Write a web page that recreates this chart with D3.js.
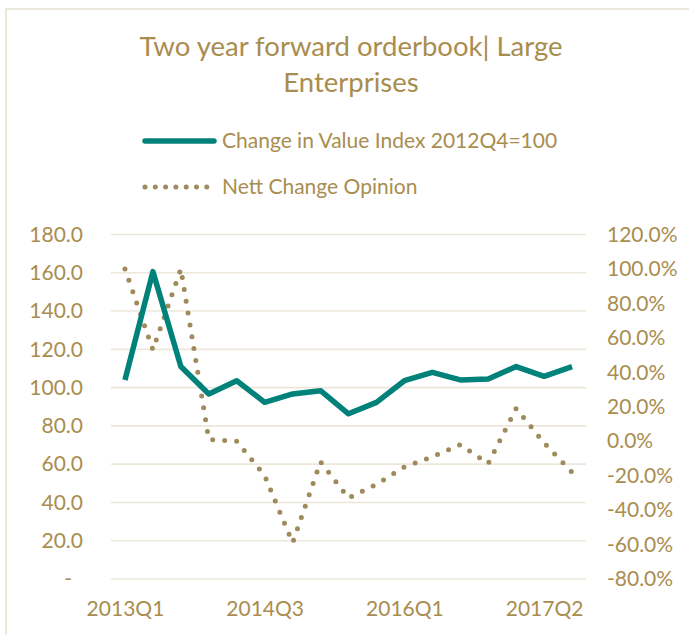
<!DOCTYPE html>
<html lang="en">
<head>
    <meta charset="UTF-8">
    <title>Two year forward orderbook | Large Enterprises</title>
    <style>
        body {
            margin: 0;
            padding: 0;
            background-color: white;
            font-family: Lato, "Open Sans", sans-serif;
        }

        .axis text {
            fill: #a98d4f;
            font-family: Lato, sans-serif;
            font-size: 21px;
        }

        .grid line {
            stroke: #ece7da;
            stroke-width: 1.6px;
        }
    </style>
</head>
<body>
    <div id="container"></div>

    <script src="https://d3js.org/d3.v7.min.js"></script>
    <script>
        // Data
        const categories = ["2013Q1", "2013Q2", "2013Q3", "2013Q4", "2014Q1", "2014Q3", "2014Q4",
            "2015Q1", "2015Q2", "2015Q3", "2016Q1", "2016Q2", "2016Q3", "2016Q4", "2017Q1", "2017Q2", "2017Q3"];
        const valueIndex = [104, 160.6, 111, 96.7, 103.6, 92.3, 96.7, 98.4, 86.3, 92.3, 103.6, 108, 104, 104.5, 111, 105.9, 111];
        const nettChange = [100, 53, 100, 1, 0, -20, -59, -12, -33, -25, -15, -9, -2, -13, 19, -1, -18];
        const leftTicks = [0, 20, 40, 60, 80, 100, 120, 140, 160, 180];
        const rightTicks = [-80, -60, -40, -20, 0, 20, 40, 60, 80, 100, 120];
        const seriesNames = ["Change in Value Index 2012Q4=100", "Nett Change Opinion"];

        const width = 689;
        const height = 635;
        const gold = "#a98d4f";
        const teal = "#00827a";
        const dotColor = "#9e8a5b";

        const svg = d3.select("#container")
            .append("svg")
            .attr("width", width)
            .attr("height", height)
            .style("display", "block");

        // light frame of the chart area
        svg.append("rect")
            .attr("x", 6)
            .attr("y", 9)
            .attr("width", 720)
            .attr("height", 660)
            .attr("fill", "white")
            .attr("stroke", "#ece8dc")
            .attr("stroke-width", 2);

        // Title
        const title = svg.append("text")
            .attr("text-anchor", "middle")
            .attr("fill", gold)
            .style("font-size", "27.5px");
        title.append("tspan").attr("x", 351).attr("y", 56).text("Two year forward orderbook| Large");
        title.append("tspan").attr("x", 351).attr("y", 92).text("Enterprises");

        // Scales
        const x = d3.scalePoint().domain(categories).range([111, 586]).padding(0.5);
        const yLeft = d3.scaleLinear().domain([0, 180]).range([579, 234.5]);
        const yRight = d3.scaleLinear().domain([-80, 120]).range([579, 234.5]);

        // Gridlines
        svg.append("g")
            .attr("class", "grid")
            .selectAll("line")
            .data(leftTicks)
            .enter()
            .append("line")
            .attr("x1", 111)
            .attr("x2", 586)
            .attr("y1", d => yLeft(d))
            .attr("y2", d => yLeft(d));

        // Axes
        const leftAxis = svg.append("g")
            .attr("class", "axis")
            .attr("transform", "translate(111,0)")
            .call(d3.axisLeft(yLeft).tickValues(leftTicks).tickSize(0).tickPadding(28)
                .tickFormat(d => d === 0 ? "-" : d.toFixed(1)));
        leftAxis.select(".domain").remove();
        leftAxis.selectAll(".tick text").filter(d => d === 0).attr("dx", -11);

        const rightAxis = svg.append("g")
            .attr("class", "axis")
            .attr("transform", "translate(586,0)")
            .call(d3.axisRight(yRight).tickValues(rightTicks).tickSize(0).tickPadding(21)
                .tickFormat(d => d.toFixed(1) + "%"));
        rightAxis.select(".domain").remove();

        const bottomAxis = svg.append("g")
            .attr("class", "axis")
            .attr("transform", "translate(0,579)")
            .call(d3.axisBottom(x).tickValues(categories.filter((d, i) => i % 5 === 0))
                .tickSize(0).tickPadding(22));
        bottomAxis.select(".domain").remove();

        // Lines
        const valueLine = d3.line()
            .x((d, i) => x(categories[i]))
            .y(d => yLeft(d));
        const nettLine = d3.line()
            .x((d, i) => x(categories[i]))
            .y(d => yRight(d));

        svg.append("path")
            .datum(nettChange)
            .attr("d", nettLine)
            .attr("fill", "none")
            .attr("stroke", dotColor)
            .attr("stroke-width", 5)
            .attr("stroke-linecap", "round")
            .attr("stroke-dasharray", "0 12");

        svg.append("path")
            .datum(valueIndex)
            .attr("d", valueLine)
            .attr("fill", "none")
            .attr("stroke", teal)
            .attr("stroke-width", 5.5)
            .attr("stroke-linejoin", "round");

        // Legend
        const legend = svg.append("g");
        legend.append("line")
            .attr("x1", 145).attr("x2", 214)
            .attr("y1", 141).attr("y2", 141)
            .attr("stroke", teal)
            .attr("stroke-width", 5.5)
            .attr("stroke-linecap", "round");
        legend.append("line")
            .attr("x1", 145).attr("x2", 207)
            .attr("y1", 187).attr("y2", 187)
            .attr("stroke", dotColor)
            .attr("stroke-width", 5)
            .attr("stroke-linecap", "round")
            .attr("stroke-dasharray", "0 10.3");
        legend.selectAll("text")
            .data(seriesNames)
            .enter()
            .append("text")
            .attr("x", 222)
            .attr("y", (d, i) => 148 + i * 46)
            .attr("fill", gold)
            .style("font-size", "21px")
            .text(d => d);
    </script>
</body>
</html>
